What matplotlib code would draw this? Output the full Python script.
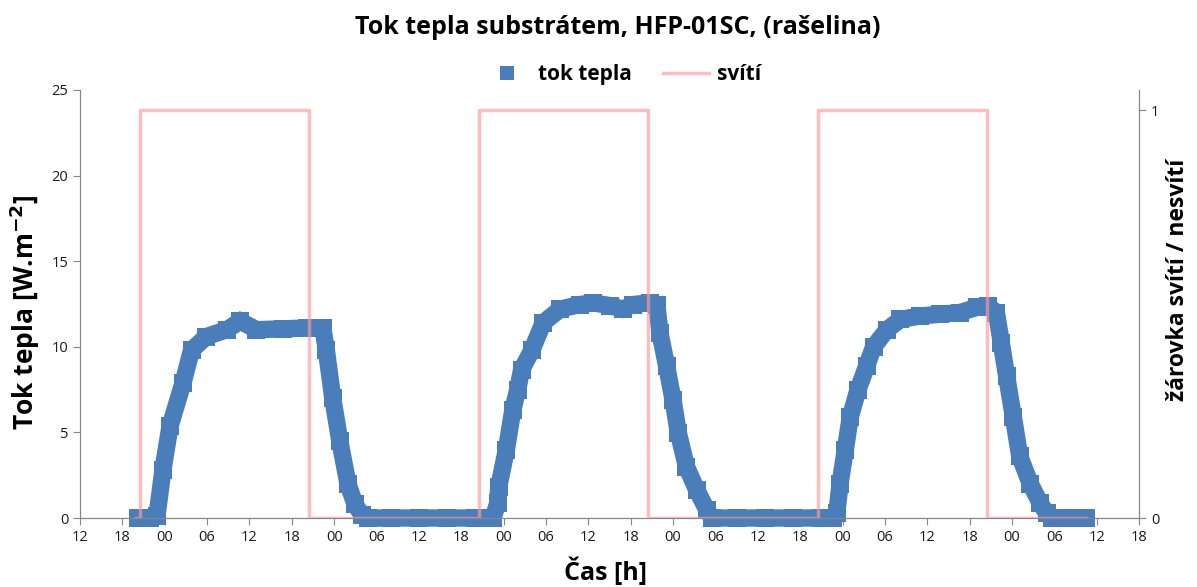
import matplotlib
matplotlib.use("Agg")
import matplotlib.pyplot as plt
from matplotlib.lines import Line2D
import numpy as np

plt.rcParams['font.family'] = ['Open Sans', 'DejaVu Sans']

# tok tepla [W.m-2], time in hours from start of day 0
tok_h = [20.2, 21.2, 21.9, 22.9, 23.75, 24.75, 26.6, 27.8, 29.9, 32.8, 34.7, 37.0, 40.75, 44.1, 46.4,
         46.9, 47.8, 48.8, 49.96, 50.95, 51.9, 52.8, 56, 60, 64, 68, 70.5,
         71.2, 71.3, 72.4, 73.3, 74.0, 74.55, 76.0, 77.6, 80.0, 82.8, 84.7, 87.1, 88.9, 90.3, 92.7, 93.7,
         94.15, 95.1, 96.0, 96.75, 97.9, 99.35, 100.8, 101.5, 105, 109, 113, 117, 118.7,
         119.2, 119.65, 120.4, 121.1, 122.2, 123.4, 124.4, 126.3, 128.2, 131.0, 133.8, 136.6, 139.0, 140.65, 141.8,
         142.5, 143.25, 144.2, 145.1, 146.6, 148.0, 148.9, 149.7, 152, 154.5]
tok_val = [0, 0, 0, 0.1, 2.8, 5.35, 7.9, 9.8, 10.6, 11.0, 11.5, 11.0, 11.05, 11.1, 11.1,
           9.8, 7.0, 4.5, 2.0, 0.8, 0.2, 0, 0, 0, 0, 0, 0,
           0.9, 1.8, 4.0, 6.3, 7.5, 8.67, 9.8, 11.4, 12.2, 12.47, 12.57, 12.4, 12.2, 12.47, 12.57, 12.47,
           10.8, 8.86, 6.9, 4.97, 3.0, 1.64, 0.47, 0, 0, 0, 0, 0, 0,
           0.3, 2.0, 4.0, 5.9, 7.5, 8.86, 10.0, 11.0, 11.6, 11.8, 11.9, 12.0, 12.3, 12.37, 12.0,
           10.2, 8.27, 5.9, 3.6, 2.0, 0.86, 0.3, 0, 0, 0]

# lamp on/off switching times
svit_h = [20.0, 20.5, 44.5, 68.5, 92.5, 116.5, 140.5, 154.5]
svit_val = [0, 1, 0, 1, 0, 1, 0, 0]

tick_h = np.arange(12, 163, 6)
tick_lab = ['%02d' % (h % 24) for h in tick_h]

blue = '#4A7EBB'
pink = '#FF9999'
grey = '#868686'

fig = plt.figure(figsize=(11.97, 5.87), dpi=100)
ax = fig.add_axes([0.0668, 0.1175, 0.8848, 0.7292])
ax2 = ax.twinx()

ax.plot(tok_h, tok_val, color=blue, lw=12.5, marker='s', ms=12.5, mew=0,
        solid_joinstyle='miter', clip_on=False, zorder=2)
ax2.plot(svit_h, svit_val, color=pink, lw=2.5, alpha=0.65, drawstyle='steps-post', zorder=3)

ax.set_xlim(12, 162)
ax.set_ylim(0, 25)
ax2.set_ylim(0, 1.05)
ax.set_xticks(tick_h)
ax.set_xticklabels(tick_lab)
ax.set_yticks([0, 5, 10, 15, 20, 25])
ax2.set_yticks([0, 1])

ax.set_zorder(ax2.get_zorder() - 1)
ax2.patch.set_visible(False)

for a in (ax, ax2):
    for s in a.spines.values():
        s.set_color(grey)
    a.spines['top'].set_visible(False)
    a.tick_params(colors=grey, labelcolor='#1a1a1a', labelsize=10.5, length=5, direction='out')

fig.text(0.516, 0.954, 'Tok tepla substrátem, HFP-01SC, (rašelina)', fontsize=18,
         fontweight='bold', ha='center', va='center')
fig.text(0.506, 0.026, 'Čas [h]', fontsize=18, fontweight='bold', ha='center', va='center')
fig.text(0.021, 0.468, 'Tok tepla [W.m$^{\\mathbf{-2}}$]', fontsize=19, fontweight='bold',
         rotation=90, ha='center', va='center')
fig.text(0.984, 0.523, 'žárovka svítí / nesvítí', fontsize=16.5, fontweight='bold',
         rotation=90, ha='center', va='center')

handles = [Line2D([], [], color=blue, marker='s', ms=10, ls='none', mew=0),
           Line2D([], [], color=pink, lw=2.5, alpha=0.65)]
fig.legend(handles, ['tok tepla', 'svítí'], loc='center', bbox_to_anchor=(0.52, 0.873), ncol=2,
           frameon=False, prop={'size': 15, 'weight': 'bold'}, handlelength=2.2,
           handletextpad=0.4, columnspacing=1.5)

fig.savefig('out.png', dpi=100)
